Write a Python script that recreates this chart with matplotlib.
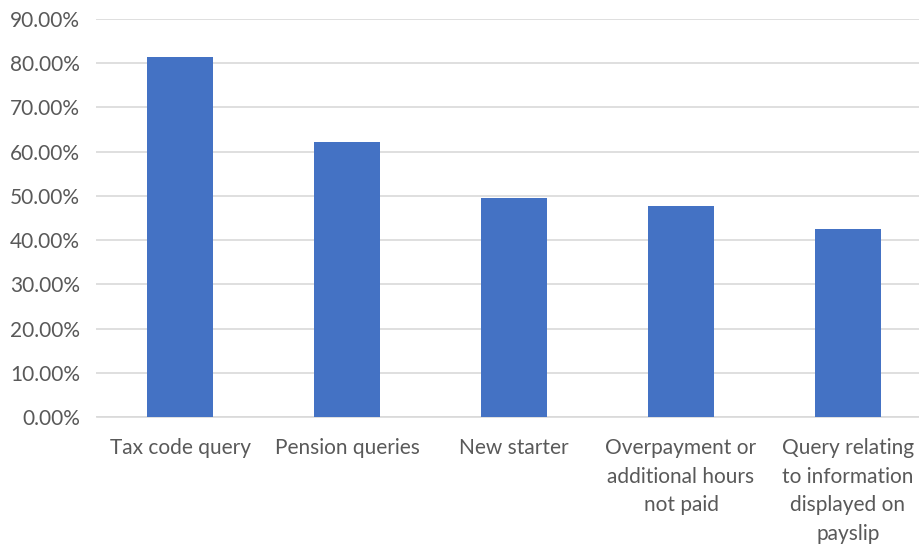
import matplotlib
matplotlib.use("Agg")
import matplotlib.pyplot as plt
from matplotlib.ticker import FuncFormatter, MultipleLocator

categories = ["Tax code query", "Pension queries", "New starter",
              "Overpayment or\nadditional hours\nnot paid",
              "Query relating\nto information\ndisplayed on\npayslip"]
values = [0.815, 0.621, 0.495, 0.477, 0.425]

plt.rcParams['font.family'] = ['Lato', 'Open Sans', 'DejaVu Sans']

fig = plt.figure(figsize=(9.2, 5.48), dpi=100)
ax = fig.add_axes([96.5/920, 1-417/548, (931.5-96.5)/920, (417-19)/548])

x = range(len(categories))
ax.bar(x, values, width=0.4, color="#4472C4", zorder=3)
ax.set_xlim(-0.5, len(categories)-0.5)
ax.set_ylim(0, 0.9)
ax.yaxis.set_major_locator(MultipleLocator(0.1))
ax.yaxis.set_major_formatter(FuncFormatter(lambda v, p: f"{v*100:.2f}%"))
ax.grid(axis='y', color="#d9d9d9", linewidth=1.2, zorder=0)
for s in ['top', 'right', 'left']:
    ax.spines[s].set_visible(False)
ax.spines['bottom'].set_color("#d9d9d9")
ax.spines['bottom'].set_linewidth(1.2)
ax.set_xticks(list(x))
ax.set_xticklabels(categories, linespacing=1.55)
ax.tick_params(axis='x', length=0, labelsize=15, colors="#595959", pad=15)
ax.tick_params(axis='y', length=0, labelsize=15, colors="#595959", pad=12)
for lbl in ax.get_xticklabels():
    lbl.set_verticalalignment('top')
fig.savefig("out.png", dpi=100)
